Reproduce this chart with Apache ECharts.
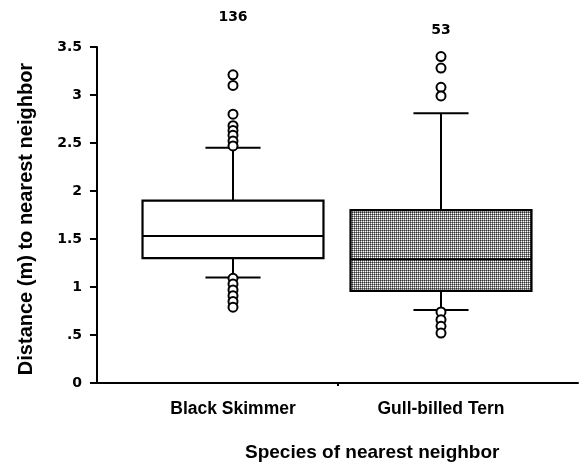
<!DOCTYPE html>
<html>
<head>
<meta charset="utf-8">
<script src="https://cdn.jsdelivr.net/npm/echarts@6/dist/echarts.min.js"></script>
<style>
html,body{margin:0;padding:0;background:#fff;}
#chart{width:580px;height:466px;}
</style>
</head>
<body>
<div id="chart"></div>
<script>
// ---- data ----
const categories = ['Black Skimmer', 'Gull-billed Tern'];
const sampleSizes = ['136', '53'];
const whiskerLow = [1.10, 0.76];
const q1 = [1.30, 0.96];
const median = [1.53, 1.29];
const q3 = [1.90, 1.80];
const whiskerHigh = [2.45, 2.81];
const skimmerOutliers = [3.21, 3.10, 2.80, 2.68, 2.63, 2.58, 2.52, 2.47, 1.09, 1.03, 0.97, 0.91, 0.85, 0.79];
const ternOutliers = [3.40, 3.28, 3.08, 2.99, 0.74, 0.66, 0.59, 0.52];
const yTickLabels = ['0', '.5', '1', '1.5', '2', '2.5', '3', '3.5'];

const FONT = '"Liberation Sans", Arial, sans-serif';
const NUMFONT = '"DejaVu Sans", sans-serif';

// stipple pattern for second box
const pc = document.createElement('canvas');
pc.width = 2; pc.height = 2;
const pctx = pc.getContext('2d');
pctx.fillStyle = '#fff'; pctx.fillRect(0, 0, 2, 2);
pctx.fillStyle = '#333'; pctx.fillRect(0, 0, 1, 1);
pctx.fillStyle = '#888'; pctx.fillRect(1, 0, 1, 1); pctx.fillRect(0, 1, 1, 1);
const stipple = { image: pc, repeat: 'repeat' };
const boxFills = ['#ffffff', stipple];

const boxData = categories.map((c, i) => [i, whiskerLow[i], q1[i], median[i], q3[i], whiskerHigh[i]]);
const outlierData = skimmerOutliers.map(v => [categories[0], v])
  .concat(ternOutliers.map(v => [categories[1], v]));

const chart = echarts.init(document.getElementById('chart'), null, { renderer: 'canvas' });

const option = {
  backgroundColor: '#fff',
  animation: false,
  grid: [
    { left: 97, right: 2, top: 47, bottom: 83 },
    { left: 129, right: 35, top: 47, bottom: 83 }
  ],
  xAxis: [
    {
      gridIndex: 0, type: 'value', min: 0, max: 2, interval: 1,
      axisLine: { show: true, lineStyle: { color: '#000', width: 2 } },
      axisTick: { show: true, customValues: [1], length: 3, lineStyle: { color: '#000', width: 2 } },
      axisLabel: { show: false },
      splitLine: { show: false }
    },
    {
      gridIndex: 1, type: 'category', data: categories, boundaryGap: true,
      axisLine: { show: false },
      axisTick: { show: false },
      axisLabel: { show: true, margin: 17, color: '#000', fontFamily: FONT, fontWeight: 'bold', fontSize: 17.5 },
      splitLine: { show: false }
    }
  ],
  yAxis: [
    {
      gridIndex: 0, type: 'value', min: 0, max: 3.5, interval: 0.5,
      name: 'Distance (m) to nearest neighbor',
      nameLocation: 'middle', nameGap: 61,
      nameTextStyle: { color: '#000', fontFamily: FONT, fontWeight: 'bold', fontSize: 20, padding: [0, 8, 0, 0] },
      axisLine: { show: true, lineStyle: { color: '#000', width: 2 } },
      axisTick: { show: true, length: 7, lineStyle: { color: '#000', width: 2 } },
      axisLabel: {
        margin: 15, color: '#000', fontFamily: NUMFONT, fontWeight: 'bold', fontSize: 14,
        formatter: (v) => yTickLabels[Math.round(v / 0.5)]
      },
      splitLine: { show: false }
    },
    {
      gridIndex: 1, type: 'value', min: 0, max: 3.5, interval: 0.5, show: false,
      splitLine: { show: false }
    }
  ],
  series: [
    {
      type: 'custom',
      xAxisIndex: 1, yAxisIndex: 1,
      data: boxData,
      encode: { x: 0, y: [1, 2, 3, 4, 5] },
      z: 2,
      renderItem: function (params, api) {
        const idx = api.value(0);
        const band = api.size([1, 0])[0];
        const boxW = band * 0.87;
        const capW = band * 0.265;
        const pLo = api.coord([idx, api.value(1)]);
        const pQ1 = api.coord([idx, api.value(2)]);
        const pMed = api.coord([idx, api.value(3)]);
        const pQ3 = api.coord([idx, api.value(4)]);
        const pHi = api.coord([idx, api.value(5)]);
        const cx = pMed[0];
        const lineStyle = { stroke: '#000', lineWidth: 2, fill: null };
        return {
          type: 'group',
          children: [
            { type: 'line', shape: { x1: cx, y1: pHi[1], x2: cx, y2: pQ3[1] }, style: lineStyle },
            { type: 'line', shape: { x1: cx, y1: pQ1[1], x2: cx, y2: pLo[1] }, style: lineStyle },
            { type: 'line', shape: { x1: cx - capW / 2, y1: pHi[1], x2: cx + capW / 2, y2: pHi[1] }, style: lineStyle },
            { type: 'line', shape: { x1: cx - capW / 2, y1: pLo[1], x2: cx + capW / 2, y2: pLo[1] }, style: lineStyle },
            {
              type: 'rect',
              shape: { x: cx - boxW / 2, y: pQ3[1], width: boxW, height: pQ1[1] - pQ3[1] },
              style: { fill: boxFills[params.dataIndex], stroke: '#000', lineWidth: 2.2 }
            },
            { type: 'line', shape: { x1: cx - boxW / 2, y1: pMed[1], x2: cx + boxW / 2, y2: pMed[1] }, style: lineStyle }
          ]
        };
      }
    },
    {
      type: 'scatter',
      xAxisIndex: 1, yAxisIndex: 1,
      data: outlierData,
      symbol: 'circle',
      symbolSize: 9,
      z: 3,
      itemStyle: { color: '#fff', borderColor: '#000', borderWidth: 2, opacity: 1 }
    }
  ],
  graphic: [
    {
      type: 'text', left: 245, top: 443,
      style: { text: 'Species of nearest neighbor', font: 'bold 19px ' + FONT, fill: '#000' }
    }
  ]
};

chart.setOption(option);

// sample-size labels above each box, centred on the category
const labelY = [17, 30];
const extra = categories.map((c, i) => {
  const px = chart.convertToPixel({ xAxisIndex: 1 }, c);
  return {
    type: 'text', x: px, y: labelY[i],
    style: { text: sampleSizes[i], font: 'bold 14px ' + NUMFONT, fill: '#000', align: 'center', verticalAlign: 'middle' }
  };
});
chart.setOption({ graphic: option.graphic.concat(extra) });
</script>
</body>
</html>
